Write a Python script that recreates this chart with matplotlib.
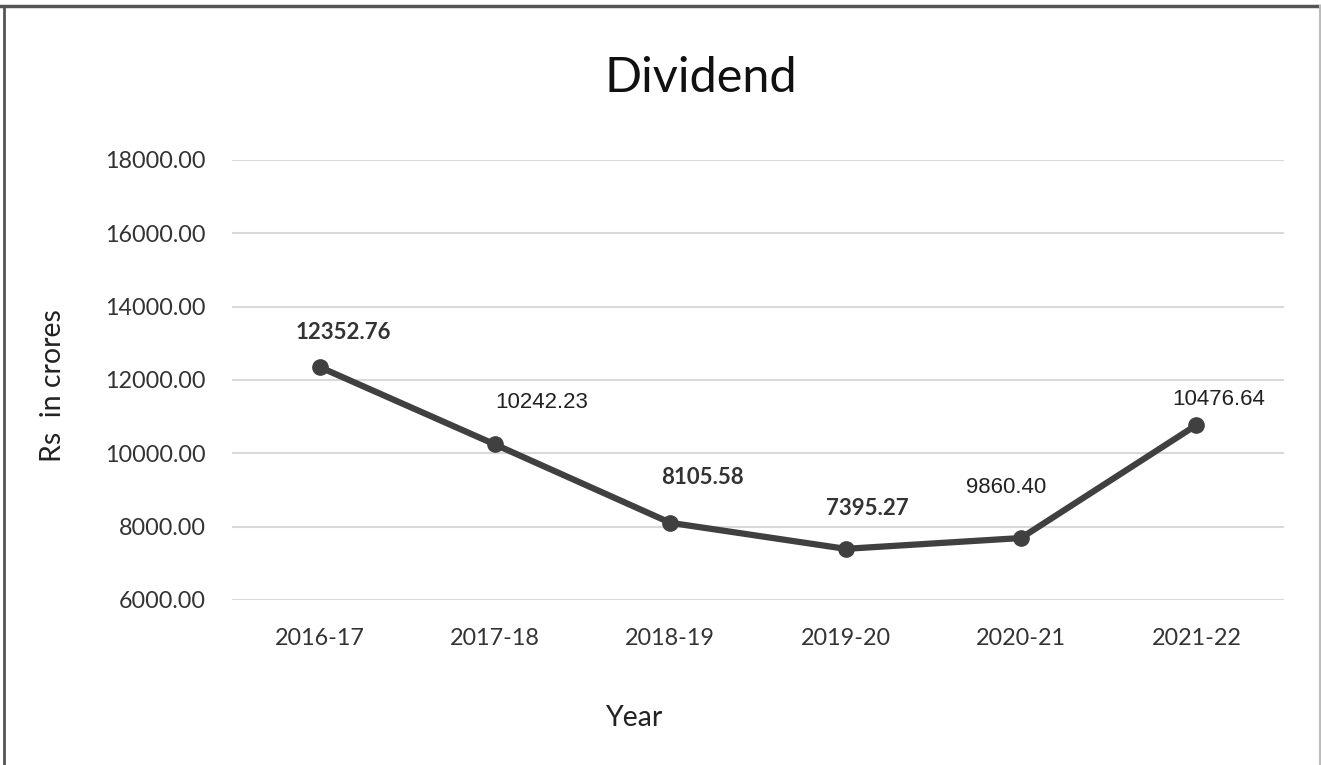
import matplotlib.pyplot as plt
from matplotlib.lines import Line2D

years = ["2016-17", "2017-18", "2018-19", "2019-20", "2020-21", "2021-22"]
# plotted positions as drawn in the chart (last two differ from their labels)
dividend = [12352.76, 10242.23, 8105.58, 7395.27, 7690.00, 10770.00]
labels = ["12352.76", "10242.23", "8105.58", "7395.27", "9860.40", "10476.64"]
label_bold = [True, False, True, True, False, False]
yticks = [6000, 8000, 10000, 12000, 14000, 16000, 18000]

# label offsets in pixels (dx, dy) from each point
offsets = [(24, 35), (47, 42), (32, 45), (22, 40), (-15, 51), (22, 26)]

fig = plt.figure(figsize=(13.21, 7.65), dpi=100)
ax = fig.add_axes([232 / 1321, 1 - 600 / 765, (1284 - 232) / 1321, 440 / 765])

x = list(range(len(years)))
ax.plot(x, dividend, color="#404040", linewidth=4.5, marker="o", markersize=11,
        solid_capstyle="round", zorder=3)

for i, (v, lab, b) in enumerate(zip(dividend, labels, label_bold)):
    dx, dy = offsets[i]
    if b:
        ax.annotate(lab, (i, v), xytext=(dx * 0.72, dy * 0.72), textcoords="offset points",
                    ha="center", va="center", fontsize=16, fontweight="bold",
                    family="Lato", color="#333333")
    else:
        ax.annotate(lab, (i, v), xytext=(dx * 0.72, dy * 0.72), textcoords="offset points",
                    ha="center", va="center", fontsize=16,
                    family="Liberation Sans", color="#222222")

ax.set_xlim(-0.5, len(years) - 0.5)
ax.set_ylim(6000, 18000)
ax.set_yticks(yticks)
ax.set_yticklabels([f"{t:.2f}" for t in yticks], family="Lato", fontsize=16.8, color="#333333")
ax.set_xticks(x)
ax.set_xticklabels(years, family="Lato", fontsize=16.8, color="#333333")
ax.tick_params(length=0, pad=19, axis="y")
ax.tick_params(length=0, pad=20, axis="x")
ax.grid(axis="y", color="#d9d9d9", linewidth=1.5)
ax.set_axisbelow(True)
for s in ax.spines.values():
    s.set_visible(False)

fig.text(701 / 1321, 1 - 78 / 765, "Dividend", ha="center", va="center",
         family="Lato", fontsize=35, color="#111111")
fig.text(53 / 1321, 1 - 386 / 765, "Rs  in crores", ha="center", va="center",
         rotation=90, family="Lato", fontsize=20.5, color="#222222")
fig.text(635 / 1321, 1 - 718 / 765, "Year", ha="center", va="center",
         family="Lato", fontsize=20.5, color="#222222")

# frame around the picture
fig.add_artist(Line2D([0, 1], [1 - 6 / 765, 1 - 6 / 765], color="#555555", linewidth=2.5,
                      transform=fig.transFigure))
fig.add_artist(Line2D([4 / 1321, 4 / 1321], [0, 1 - 6 / 765], color="#555555", linewidth=2,
                      transform=fig.transFigure))
fig.add_artist(Line2D([1319.5 / 1321, 1319.5 / 1321], [0, 1 - 6 / 765], color="#bbbbbb",
                      linewidth=1.5, transform=fig.transFigure))

fig.savefig("out.png", dpi=100, facecolor="white")
